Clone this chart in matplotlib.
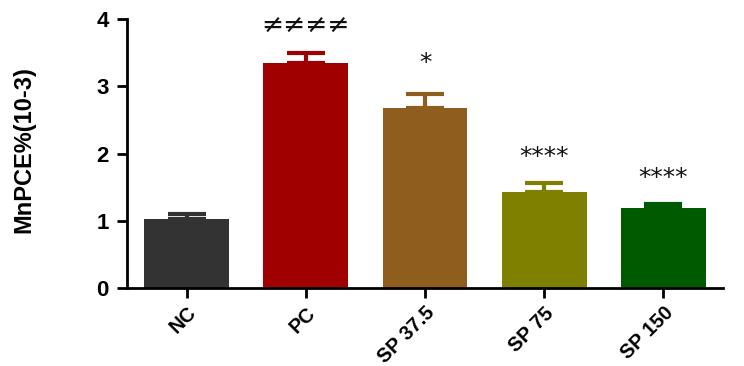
import matplotlib.pyplot as plt
import numpy as np

# Values
groups = ['NC', 'PC', 'SP 37.5', 'SP 75', 'SP 150']
means = [1.03, 3.34, 2.67, 1.43, 1.19]
sem = [0.07, 0.16, 0.21, 0.13, 0.06]
marks = ['', '≠≠≠≠', '*', '****', '****']
colors = ['#333333', '#a00000', '#8f5e1e', '#7f7f00', '#005a00']

plt.rcParams['font.family'] = ['Liberation Sans', 'DejaVu Sans']

fig = plt.figure(figsize=(7.44, 3.66), dpi=100)
ax = fig.add_axes([0.1707, 0.2131, 0.8011, 0.7349])

x = np.arange(len(groups))
ax.bar(x, means, width=0.71, color=colors, zorder=2)
offsets = [0, 10, 14, 10, 10]
for i in range(len(groups)):
    ax.errorbar(x[i], means[i], yerr=[[0], [sem[i]]], fmt='none',
                ecolor=colors[i], elinewidth=3, capsize=14, capthick=3, zorder=1)
    if marks[i]:
        ax.annotate(marks[i], (x[i], means[i] + sem[i]), xytext=(0, offsets[i]),
                    textcoords='offset points', ha='center', va='bottom',
                    fontsize=19 if marks[i].startswith('≠') else 18,
                    family=['DejaVu Sans'], color='#111111')

ax.set_xlim(-0.5, len(groups) - 0.5)
ax.set_ylim(0, 4)
ax.set_yticks([0, 1, 2, 3, 4])
ax.set_xticks(x)
ax.set_xticklabels(groups, rotation=45, ha='right', rotation_mode='anchor',
                   fontsize=14.5, fontweight='bold')
ax.tick_params(axis='y', labelsize=16, width=2, length=7, pad=6)
ax.tick_params(axis='x', width=2, length=7, pad=4)
for lab in ax.get_yticklabels():
    lab.set_fontweight('bold')
for s in ['top', 'right']:
    ax.spines[s].set_visible(False)
for s in ['left', 'bottom']:
    ax.spines[s].set_linewidth(2)

fig.text(0.032, 0.59, 'MnPCE%(10-3)', rotation=90, ha='center', va='center',
         fontsize=17, fontweight='bold')

fig.savefig('out.png', dpi=100)
